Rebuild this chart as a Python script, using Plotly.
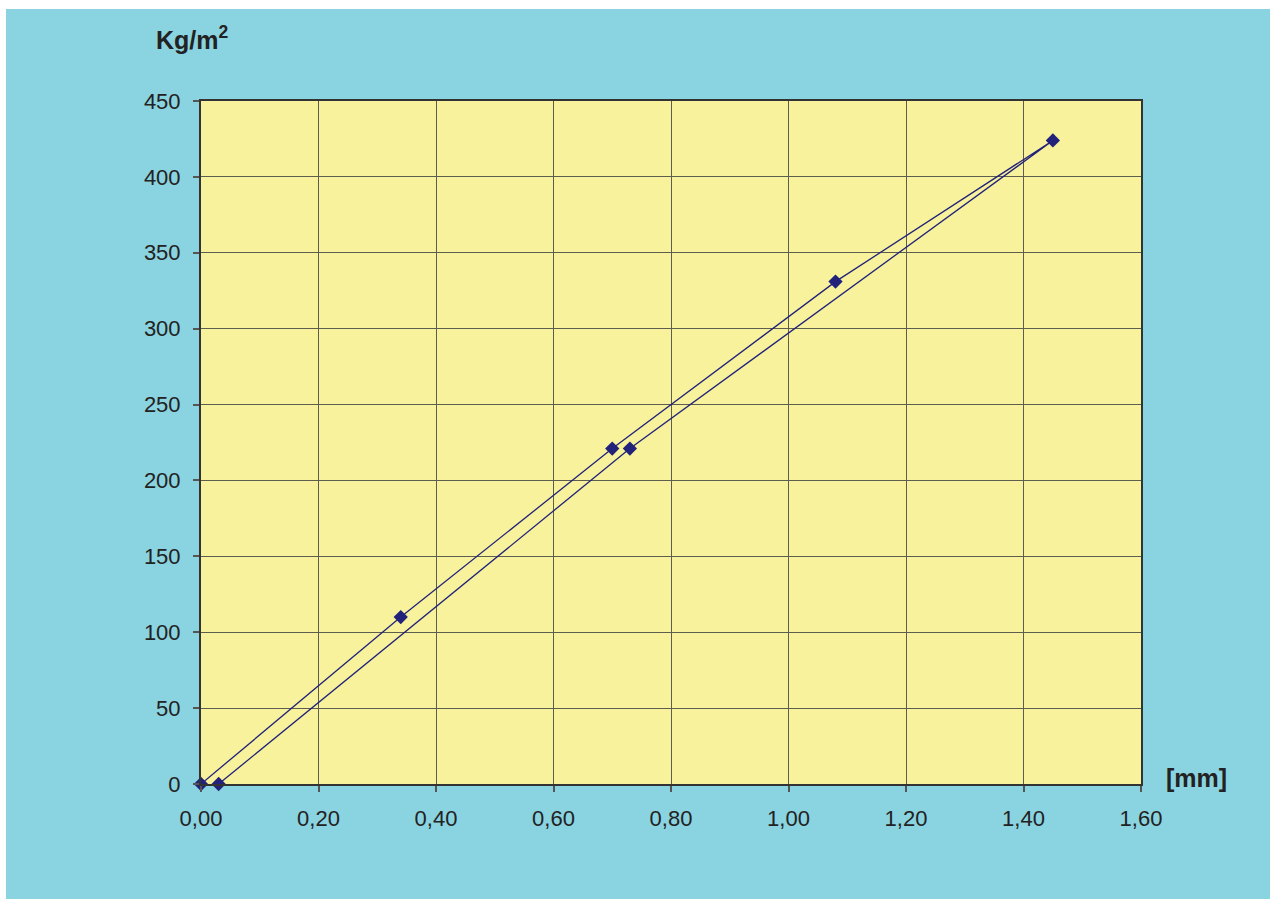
import plotly.graph_objects as go

# Load / unload cycle: deformation [mm] vs. pressure [Kg/m2]
deformation_mm = [0.00, 0.34, 0.70, 1.08, 1.45, 0.73, 0.03]
pressure_kgm2 = [0, 110, 221, 331, 424, 221, 0]

x_ticks = [0.0, 0.2, 0.4, 0.6, 0.8, 1.0, 1.2, 1.4, 1.6]
y_ticks = [0, 50, 100, 150, 200, 250, 300, 350, 400, 450]

W, H = 1270, 899
ML, MR, MT, MB = 201, 129, 101, 115
PW, PH = W - ML - MR, H - MT - MB

BLUE = "#8AD3E0"
YELLOW = "#F7F29B"
NAVY = "#22227A"
FONT = "Liberation Sans, Arial, sans-serif"


def px_x(px):
    return (px - ML) / PW


def px_y(py):
    return (H - MB - py) / PH


fig = go.Figure()
fig.add_trace(go.Scatter(
    x=deformation_mm, y=pressure_kgm2,
    mode="lines+markers",
    line=dict(color=NAVY, width=1.3),
    marker=dict(symbol="diamond", size=11, color=NAVY),
    showlegend=False, cliponaxis=False,
))

axis_common = dict(
    showline=True, mirror=True, linecolor="#333333", linewidth=2,
    ticks="outside", ticklen=6, tickcolor="#555555", tickwidth=1.5,
    showgrid=True, gridcolor="#5e5e50", gridwidth=1,
    zeroline=False,
    tickfont=dict(family=FONT, size=22, color="#222222"),
)

# thin white page border along the top and left edges
white_strips = [
    dict(type="rect", xref="paper", yref="paper", layer="below",
         x0=px_x(-5), x1=px_x(W + 5), y0=px_y(9), y1=px_y(-5),
         fillcolor="white", line=dict(width=0)),
    dict(type="rect", xref="paper", yref="paper", layer="below",
         x0=px_x(-5), x1=px_x(6), y0=px_y(H + 5), y1=px_y(-5),
         fillcolor="white", line=dict(width=0)),
]

fig.update_layout(
    width=W, height=H,
    margin=dict(l=ML, r=MR, t=MT, b=MB),
    paper_bgcolor=BLUE,
    plot_bgcolor=YELLOW,
    separators=",.",
    xaxis=dict(range=[0, 1.6], tickvals=x_ticks, tickformat=".2f",
               ticklabelstandoff=8, **axis_common),
    yaxis=dict(range=[0, 450], tickvals=y_ticks, tickformat="d",
               ticklabelstandoff=8, **axis_common),
    shapes=white_strips,
    annotations=[
        dict(text="<b>Kg/m<sup>2</sup></b>", xref="paper", yref="paper",
             x=px_x(192), y=px_y(38),
             xanchor="center", yanchor="middle", showarrow=False,
             font=dict(family=FONT, size=25, color="#222222")),
        dict(text="<b>[mm]</b>", xref="paper", yref="paper",
             x=px_x(1196), y=px_y(778),
             xanchor="center", yanchor="middle", showarrow=False,
             font=dict(family=FONT, size=25, color="#222222")),
    ],
)

fig.write_html("out.html")
